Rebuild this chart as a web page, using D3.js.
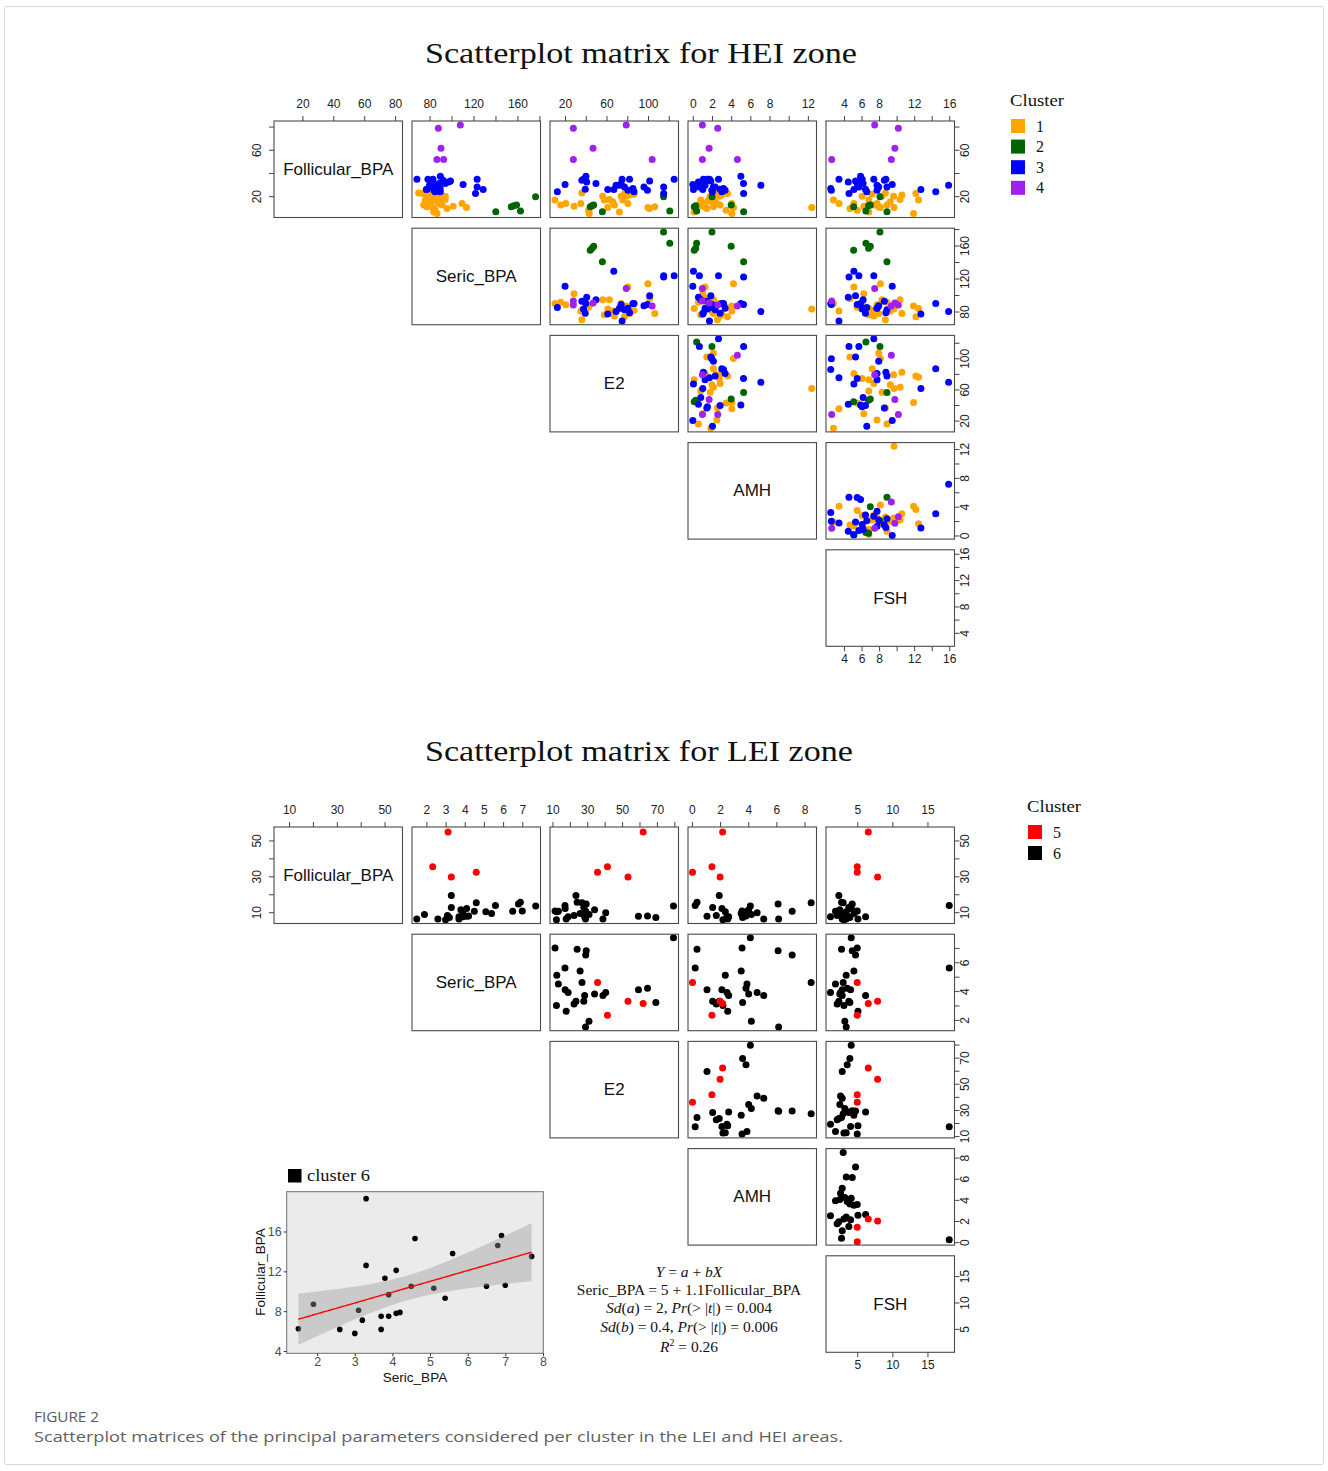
<!DOCTYPE html>
<html><head><meta charset="utf-8">
<script src="https://cdn.jsdelivr.net/npm/d3@7"></script>
<style>body{margin:0;background:#fff}svg{display:block}</style>
</head><body>
<svg id="chart" width="1328" height="1471"></svg>
<script>
// ---------------- DATA ----------------
const varNames = ["Follicular_BPA", "Seric_BPA", "E2", "AMH", "FSH"];

// HEI zone (clusters 1-4)
const heiCluster = [
  1,1,1,1,1,1,1,1,1,1,1,1,1,1,1,1,1,1,1,1,1,1,1,1,1,
  2,2,2,2,2,2,
  3,3,3,3,3,3,3,3,3,3,3,3,3,3,3,3,3,3,3,3,3,3,3,3,3,
  4,4,4,4,4];
const heiFollicular = [
  22.8,22.3,20.9,21.7,20.0,20.0,20.0,16.6,15.1,16.6,16.6,17.1,12.3,10.8,10.3,7.9,5.0,12.3,9.4,11.4,13.7,10.3,13.7,13.7,6.4,
  19.4,7.1,6.6,10.8,11.7,12.3,
  22.3,30.0,34.6,34.6,25.7,28.0,23.7,23.7,25.1,25.1,25.7,29.4,26.6,28.0,28.0,29.4,26.0,30.9,30.9,32.3,33.1,33.7,34.6,34.6,37.1,
  81.4,78.5,61.4,51.7,51.7];
const heiSeric = [
  70.0,73.6,77.6,81.3,86.8,89.8,94.3,76.1,80.7,83.7,89.8,94.3,74.6,77.6,83.1,85.2,86.8,91.3,95.9,101.4,109.6,113.6,80.7,88.3,83.7,
  176.5,162.8,140.3,154.3,156.7,159.2,
  121.8,110.5,123.3,68.5,128.8,123.3,89.8,85.0,84.0,88.6,77.0,79.9,89.6,87.1,82.0,84.0,77.8,94.3,88.6,97.4,99.0,92.3,78.5,83.1,89.8,
  108,88,90.4,92.8,86.7];
const heiE2 = [
  36.2,77.3,82.2,86.5,78.9,74.1,56.3,57.9,66.0,75.7,10.3,62.7,67.6,106.5,61.2,42.7,43.4,15.8,101.6,28.7,80.6,99.9,35.2,20.7,72.4,
  115,121,56,44.3,46,47.6,
  115.1,20.0,125.2,75.0,67.0,115.1,86.5,12.6,80.6,99.4,61.2,69.2,85.5,96.1,77.3,72.5,39.5,49.8,74.1,40.9,101.6,36.2,82.2,37.8,40.1,
  79,28,47,28,104];
const heiAMH = [
  2.57,3.62,3.02,2.15,2.43,2.78,1.81,0.83,1.98,1.63,1.88,2.15,2.85,2.15,12.4,3.48,4.07,0.59,1.46,1.04,1.28,4.24,4.07,2.5,0.14,
  2.0,0.4,5.3,0.15,0.3,4.0,
  5.3,0.0,2.68,1.74,0.07,0.69,3.02,2.05,3.37,1.98,1.04,7.1,3.2,2.15,2.33,1.28,2.85,0.83,5.29,0.59,1.88,1.46,1.1,1.53,5.01,
  1.0,2.6,1.7,1.0,4.65];
const heiFSH = [
  8.72,12.2,10.6,7.2,9.66,6.07,8.34,6.83,9.28,12.5,2.8,10.4,7.4,7.96,9.7,5.51,11.93,8.9,4.68,6.26,5.13,8.15,3.43,7.77,6.83,
  8.1,6.5,8.9,5.1,6.8,7.0,
  4.57,9.5,7.4,3.43,5.13,5.70,14.46,6.6,7.77,2.56,12.77,15.93,2.49,7.96,8.9,7.77,6.45,6.18,5.51,4.49,5.32,8.6,8.78,6.07,5.89,
  7.5,10.2,9.8,2.6,9.4];
const heiLegend = [1, 2, 3, 4];

// HEI axis ranges and ticks
const heiDomains = [[1.6,84.8],[64,181],[5.5,129.4],[-0.5,12.9],[1.95,16.6]];
const heiTicks = [[20,40,60,80],[80,100,120,140,160,180],[20,40,60,80,100,120],[0,2,4,6,8,10,12],[4,6,8,10,12,14,16]];
const heiTopLabels = [[20,40,60,80],[80,120,160],[20,60,100],[0,2,4,6,8,12],[4,6,8,12,16]];
const heiSideLabels = [[20,60],[80,120,160],[20,60,100],[0,4,8,12],[4,8,12,16]];

// LEI zone (clusters 5-6)
const leiCluster = [
  6,6,6,6,6,6,6,6,6,6,6,6,6,6,6,6,6,6,6,6,6,6,6,6,6,6,
  5,5,5,5];
const leiFollicular = [
  6.24,8.7,6.17,5.77,8.1,7.1,19.3,12.6,6.17,7.48,11.3,7.48,9.66,12.1,7.78,7.88,10.5,15.3,10.3,9.3,13.8,10.5,14.6,15.6,10.6,13.5,
  54.7,35.4,29.6,32.3];
const leiSeric = [
  1.5,1.9,2.6,3.0,3.1,3.2,3.3,3.3,3.7,3.7,3.8,3.9,3.9,4.1,4.1,4.2,4.5,4.6,5.1,5.4,5.6,6.5,6.8,6.9,7.0,7.7,
  3.13,2.33,3.3,4.6];
const leiE2 = [
  29.0,31.0,17.9,12.3,22.4,69.4,23.5,28.0,39.0,28.5,34.2,19.0,40.6,17.3,59.4,64.6,13.4,27.0,12.5,25.9,17.2,29.1,29.4,24.2,11.5,79.5,
  62.1,41.6,53.4,35.9];
const leiAMH = [
  6.16,4.22,2.54,2.2,1.73,3.6,1.94,1.47,5.1,2.61,4.03,2.49,4.63,2.13,1.07,3.84,3.91,8.47,2.37,3.5,0.23,7.12,6.12,0.36,3.56,4.15,
  2.18,1.42,2.0,0.04];
const leiFSH = [
  3.43,3.23,5.1,3.1,2.14,3.95,2.38,3.8,2.86,6.19,2.52,1.19,2.62,4.05,2.86,3.57,1.9,3.0,3.43,4.52,18.1,4.76,4.29,2.76,5.0,4.14,
  6.57,5.0,7.9,5.0];
const leiLegend = [5, 6];

const leiDomains = [[3.7,57.5],[1.25,7.95],[8.6,82.4],[-0.28,8.85],[0.55,18.85]];
const leiTicks = [[10,20,30,40,50],[2,3,4,5,6,7],[10,20,30,40,50,60,70,80],[0,2,4,6,8],[5,10,15]];
const leiTopLabels = [[10,30,50],[2,3,4,5,6,7],[10,30,50,70],[0,2,4,6,8],[5,10,15]];
const leiSideLabels = [[10,30,50],[2,4,6],[10,30,50,70],[0,2,4,6,8],[5,10,15]];

// Inset regression (cluster 6): x = Seric_BPA, y = Follicular_BPA
const insetXDomain = [1.19, 8.01];
const insetYDomain = [3.77, 20.0];
const insetXTicks = [2,3,4,5,6,7,8];
const insetYTicks = [4,8,12,16];

const formulaLines = [
  [["Y", true], [" = ", false], ["a", true], [" + ", false], ["bX", true]],
  [["Seric_BPA = 5 + 1.1Follicular_BPA", false]],
  [["Sd", true], ["(", false], ["a", true], [") = 2, ", false], ["Pr", true], ["(> |", false], ["t", true], ["|) = 0.004", false]],
  [["Sd", true], ["(", false], ["b", true], [") = 0.4, ", false], ["Pr", true], ["(> |", false], ["t", true], ["|) = 0.006", false]]
];

const clusterColors = {1:"#FFA500", 2:"#006400", 3:"#0000FF", 4:"#A020F0", 5:"#FF0000", 6:"#000000"};

// ---------------- DRAWING ----------------
const svg = d3.select("#chart");
const SANS = "'Liberation Sans', Arial, Helvetica, sans-serif";
const SERIF = "'Liberation Serif', 'Times New Roman', serif";
const PW = 128.5, PH = 96.5, DX = 138, DY = 107.2;

svg.append("rect").attr("x",4.5).attr("y",6.5).attr("width",1319).attr("height",1458)
  .attr("fill","none").attr("stroke","#d6d6d6").attr("stroke-width",1).attr("rx",2);

function rAxis(sel, orient, scale, ticks, labels) {
  const maker = {top:d3.axisTop, bottom:d3.axisBottom, left:d3.axisLeft, right:d3.axisRight}[orient];
  sel.call(maker(scale).tickValues(ticks).tickSize(5).tickSizeOuter(0)
    .tickFormat(d => labels.includes(d) ? String(d) : ""));
  sel.attr("font-size", null).attr("font-family", null);
  sel.select(".domain").remove();
  sel.selectAll(".tick line").attr("stroke", "#444").attr("stroke-width", 1);
  const t = sel.selectAll(".tick text")
    .attr("font-family", SANS).attr("font-size", 12).attr("fill", "#222")
    .attr("dy", null).attr("text-anchor", "middle").attr("dominant-baseline", "central");
  if (orient === "top") t.attr("x", 0).attr("y", -17);
  if (orient === "bottom") t.attr("x", 0).attr("y", 13);
  if (orient === "left") t.attr("x", 0).attr("y", 0).attr("transform", "translate(-17,0) rotate(-90)");
  if (orient === "right") t.attr("x", 0).attr("y", 0).attr("transform", "translate(10,0) rotate(-90)");
}

function drawMatrix(cfg) {
  const n = varNames.length;
  const cols = [cfg.f, cfg.s, cfg.e2, cfg.amh, cfg.fsh];
  const obs = cfg.cluster.map((c, k) => ({c, v: cols.map(a => a[k])}));
  const ordered = cfg.drawOrder.flatMap(cl => obs.filter(o => o.c === cl));
  const xs = cfg.domains.map(d => d3.scaleLinear().domain(d).range([0, PW]));
  const ys = cfg.domains.map(d => d3.scaleLinear().domain(d).range([PH, 0]));
  const root = svg.append("g");

  root.append("text").attr("x", cfg.titleX).attr("y", cfg.titleY)
    .attr("text-anchor", "middle").attr("font-family", SERIF).attr("font-size", 30)
    .attr("textLength", cfg.titleLen).attr("lengthAdjust", "spacingAndGlyphs")
    .attr("fill", "#111").text(cfg.title);

  for (let i = 0; i < n; i++) {
    for (let j = i; j < n; j++) {
      const g = root.append("g").attr("transform", `translate(${cfg.x0 + j*DX},${cfg.y0 + i*DY})`);
      if (i === j) {
        g.append("text").attr("x", PW/2).attr("y", PH/2).attr("text-anchor", "middle")
          .attr("dominant-baseline", "central").attr("font-family", SANS).attr("font-size", 17)
          .attr("fill", "#111").text(varNames[i]);
      } else {
        g.selectAll("circle").data(ordered).join("circle")
          .attr("cx", d => xs[j](d.v[j])).attr("cy", d => ys[i](d.v[i]))
          .attr("r", cfg.r).attr("fill", d => clusterColors[d.c]);
      }
      g.append("rect").attr("width", PW).attr("height", PH)
        .attr("fill", "none").attr("stroke", "#4a4a4a").attr("stroke-width", 1.1);
    }
  }
  for (let j = 0; j < n; j++) {
    rAxis(root.append("g").attr("transform", `translate(${cfg.x0 + j*DX},${cfg.y0})`),
      "top", xs[j], cfg.ticks[j], cfg.topLabels[j]);
  }
  rAxis(root.append("g").attr("transform", `translate(${cfg.x0},${cfg.y0})`),
    "left", ys[0], cfg.ticks[0], cfg.sideLabels[0]);
  for (let i = 0; i < n; i++) {
    rAxis(root.append("g").attr("transform", `translate(${cfg.x0 + (n-1)*DX + PW},${cfg.y0 + i*DY})`),
      "right", ys[i], cfg.ticks[i], cfg.sideLabels[i]);
  }
  rAxis(root.append("g").attr("transform", `translate(${cfg.x0 + (n-1)*DX},${cfg.y0 + (n-1)*DY + PH})`),
    "bottom", xs[n-1], cfg.ticks[n-1], cfg.topLabels[n-1]);

  const lg = root.append("g").attr("transform", `translate(${cfg.legX},${cfg.legY})`);
  lg.append("text").attr("x", -1).attr("y", 0).attr("font-family", SERIF).attr("font-size", 17)
    .attr("textLength", 54).attr("lengthAdjust", "spacingAndGlyphs").attr("fill", "#111").text("Cluster");
  cfg.legend.forEach((c, k) => {
    lg.append("rect").attr("x", 0).attr("y", 13 + k*cfg.legStep).attr("width", 14).attr("height", 14)
      .attr("fill", clusterColors[c]);
    lg.append("text").attr("x", 25).attr("y", 20 + k*cfg.legStep).attr("dominant-baseline", "central")
      .attr("font-family", SERIF).attr("font-size", 16).attr("fill", "#111").text(String(c));
  });
}

drawMatrix({
  title: "Scatterplot matrix for HEI zone", titleX: 641, titleY: 63, titleLen: 432,
  x0: 274, y0: 121, cluster: heiCluster,
  f: heiFollicular, s: heiSeric, e2: heiE2, amh: heiAMH, fsh: heiFSH,
  domains: heiDomains, ticks: heiTicks, topLabels: heiTopLabels, sideLabels: heiSideLabels,
  drawOrder: [1, 2, 3, 4], r: 3.5,
  legend: heiLegend, legX: 1011, legY: 106, legStep: 20.6
});

drawMatrix({
  title: "Scatterplot matrix for LEI zone", titleX: 639, titleY: 761, titleLen: 428,
  x0: 274, y0: 827, cluster: leiCluster,
  f: leiFollicular, s: leiSeric, e2: leiE2, amh: leiAMH, fsh: leiFSH,
  domains: leiDomains, ticks: leiTicks, topLabels: leiTopLabels, sideLabels: leiSideLabels,
  drawOrder: [6, 5], r: 3.5,
  legend: leiLegend, legX: 1028, legY: 812, legStep: 21
});

// ---------------- INSET REGRESSION ----------------
(function () {
  const L = 286.7, R = 543.3, T = 1191.7, B = 1353.3;
  const x = d3.scaleLinear().domain(insetXDomain).range([L, R]);
  const y = d3.scaleLinear().domain(insetYDomain).range([B, T]);
  const pts = leiCluster.map((c, k) => ({c, sx: leiSeric[k], fy: leiFollicular[k]})).filter(d => d.c === 6);
  const g = svg.append("g");
  g.append("rect").attr("x", L).attr("y", T).attr("width", R - L).attr("height", B - T).attr("fill", "#EBEBEB");

  const n = pts.length;
  const mx = d3.mean(pts, d => d.sx), my = d3.mean(pts, d => d.fy);
  const sxx = d3.sum(pts, d => (d.sx - mx) ** 2);
  const sxy = d3.sum(pts, d => (d.sx - mx) * (d.fy - my));
  const b = sxy / sxx, a = my - b * mx;
  const s = Math.sqrt(d3.sum(pts, d => (d.fy - (a + b * d.sx)) ** 2) / (n - 2));
  const tq = 2.064; // t(0.975, df = 24)
  const [xmin, xmax] = d3.extent(pts, d => d.sx);
  const grid = d3.range(0, 81).map(k => xmin + (xmax - xmin) * k / 80);
  const band = grid.map(xv => {
    const fit = a + b * xv;
    const se = s * Math.sqrt(1 / n + (xv - mx) ** 2 / sxx);
    return {xv, fit, lo: fit - tq * se, hi: fit + tq * se};
  });

  g.selectAll("circle").data(pts).join("circle")
    .attr("cx", d => x(d.sx)).attr("cy", d => y(d.fy)).attr("r", 2.8).attr("fill", "#000");
  g.append("path").datum(band)
    .attr("d", d3.area().x(d => x(d.xv)).y0(d => y(d.lo)).y1(d => y(d.hi)))
    .attr("fill", "#999999").attr("fill-opacity", 0.4);
  g.append("path").datum(band)
    .attr("d", d3.line().x(d => x(d.xv)).y(d => y(d.fit)))
    .attr("fill", "none").attr("stroke", "#FF0000").attr("stroke-width", 1.4);
  g.append("rect").attr("x", L).attr("y", T).attr("width", R - L).attr("height", B - T)
    .attr("fill", "none").attr("stroke", "#6e6e6e").attr("stroke-width", 1);

  const ax = g.append("g").attr("transform", `translate(0,${B})`)
    .call(d3.axisBottom(x).tickValues(insetXTicks).tickFormat(d3.format("d")).tickSize(3).tickSizeOuter(0));
  const ay = g.append("g").attr("transform", `translate(${L},0)`)
    .call(d3.axisLeft(y).tickValues(insetYTicks).tickFormat(d3.format("d")).tickSize(3).tickSizeOuter(0));
  [ax, ay].forEach(a2 => {
    a2.attr("font-size", null).attr("font-family", null);
    a2.select(".domain").remove();
    a2.selectAll(".tick line").attr("stroke", "#333");
    a2.selectAll(".tick text").attr("font-family", SANS).attr("font-size", 12.5).attr("fill", "#4D4D4D");
  });
  ax.selectAll(".tick text").attr("dy", null).attr("y", 9).attr("dominant-baseline", "central");
  ay.selectAll(".tick text").attr("dy", null).attr("x", -5).attr("dominant-baseline", "central");

  g.append("text").attr("x", 415).attr("y", 1377).attr("text-anchor", "middle").attr("dominant-baseline", "central")
    .attr("font-family", SANS).attr("font-size", 13.5).attr("fill", "#111").text("Seric_BPA");
  g.append("text").attr("transform", "translate(260,1272) rotate(-90)").attr("text-anchor", "middle")
    .attr("dominant-baseline", "central").attr("font-family", SANS).attr("font-size", 13.5).attr("fill", "#111")
    .text("Follicular_BPA");

  g.append("rect").attr("x", 288).attr("y", 1169).attr("width", 13.5).attr("height", 13.5).attr("fill", clusterColors[6]);
  g.append("text").attr("x", 307).attr("y", 1181).attr("font-family", SERIF).attr("font-size", 17)
    .attr("textLength", 63).attr("lengthAdjust", "spacingAndGlyphs").attr("fill", "#111").text("cluster 6");
})();

// ---------------- FORMULA ----------------
(function () {
  const g = svg.append("g").attr("font-family", SERIF).attr("font-size", 15.5).attr("fill", "#111");
  const baselines = [1277, 1295, 1313, 1332];
  formulaLines.forEach((parts, k) => {
    const t = g.append("text").attr("x", 689).attr("y", baselines[k]).attr("text-anchor", "middle");
    parts.forEach(([s, it]) => t.append("tspan").attr("font-style", it ? "italic" : "normal").text(s));
  });
  const t5 = g.append("text").attr("x", 689).attr("y", 1352).attr("text-anchor", "middle");
  t5.append("tspan").attr("font-style", "italic").text("R");
  t5.append("tspan").attr("font-size", 10).attr("dy", -6).text("2");
  t5.append("tspan").attr("dy", 6).text(" = 0.26");
})();

// ---------------- CAPTION ----------------
svg.append("text").attr("x", 34).attr("y", 1421.5).attr("font-family", "'Open Sans', sans-serif")
  .attr("font-size", 14).attr("fill", "#5a5a5a").attr("textLength", 65).attr("lengthAdjust", "spacingAndGlyphs")
  .text("FIGURE 2");
svg.append("text").attr("x", 34).attr("y", 1441.5).attr("font-family", "'Open Sans', sans-serif")
  .attr("font-size", 15).attr("fill", "#5f5f5f").attr("textLength", 809).attr("lengthAdjust", "spacingAndGlyphs")
  .text("Scatterplot matrices of the principal parameters considered per cluster in the LEI and HEI areas.");
</script>
</body></html>
